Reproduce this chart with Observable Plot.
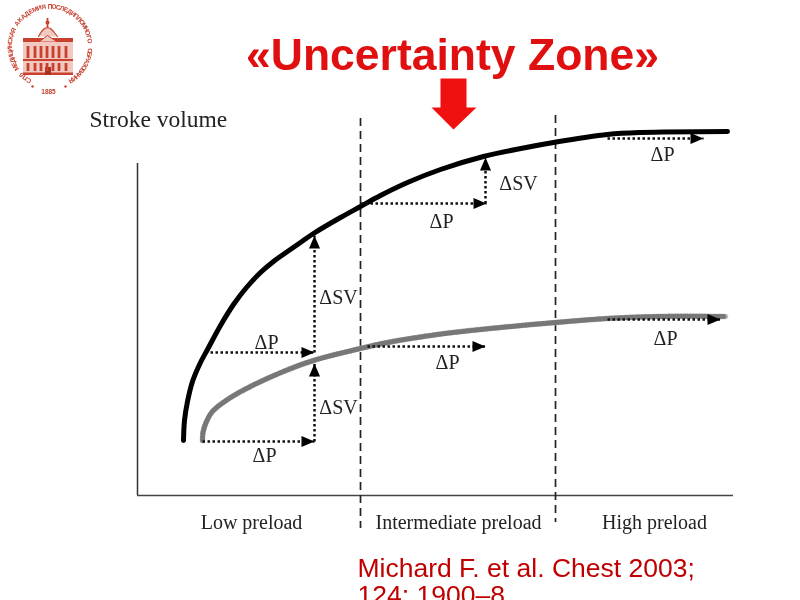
<!DOCTYPE html>
<html><head><meta charset="utf-8">
<script src="https://cdn.jsdelivr.net/npm/d3@7"></script>
<script src="https://cdn.jsdelivr.net/npm/@observablehq/plot@0.6"></script>
<style>html,body{margin:0;padding:0;background:#fff;overflow:hidden}svg{display:block;filter:blur(0.45px)}</style>
</head><body><div id="chart"></div>
<script>
// Screen-like units: preload runs 0..800 left to right, stroke volume 0..600 top down.
const upperPreload = [183,184,187,192,200,207,220,233,246,260,273,287,300,313,340,360,380,407,440,483,523,553,607,640,727];
const upperSV      = [440,420,401,381,362,349,325,304,287,272,261,251,242,233,217,206,195,182,169,156,147.5,142,134,132,131];
const lowerPreload = [202,202.5,206,212,227,250,283,313,360,387,437,500,555,607,657,725];
const lowerSV      = [440,432,421,411,399,386,371,360,348,342,334,327,322,318,316,316];

const arrowX1 = [202,314,210,314,360,485,607,367,607];
const arrowY1 = [441,441,352,352,203,203,138,346,319];
const arrowX2 = [314,314,314,314,486,485,703,485,720];
const arrowY2 = [441,363,352,235,203,157,138,346,319];

const labelText = ["ΔP","ΔSV","ΔP","ΔSV","ΔP","ΔSV","ΔP","ΔP","ΔP"];
const labelX    = [264,338,266,338,441,518,662,447,665];
const labelY    = [455,407,342,297,221,183,154,362,338];

const zoneText = ["Low preload","Intermediate preload","High preload"];
const zoneX    = [251,458,654];
const zoneY    = 522;

const dividerX = [360,555];
const dividerTop = [118,115];
const dividerBottom = [528,522];

const redArrowX = [440,466,466,476,453,431,440,440];
const redArrowY = [78,78,107,107,129,107,107,78];

// Logo
const logoRed = "#c8412f";
const logoWords = ["СПб","МЕДИЦИНСКАЯ","АКАДЕМИЯ","ПОСЛЕДИПЛОМНОГО","ОБРАЗОВАНИЯ"];
const logoFrom  = [-148,-122,-55,0,96];
const logoTo    = [-135,-66,-9,82,148];
const logoCx = 49.5, logoCy = 46, logoR = 40;
const bodyX1 = [23,23,23,23,45];
const bodyX2 = [73,73,73,73,51];
const bodyY1 = [38,38,59,72.5,67];
const bodyY2 = [75,42,61,75,75];
const bodyFill = ["#f2c9c0",logoRed,logoRed,logoRed,"#b03020"];
const windowX = [28,35,41,47,53,59,66];
const domeX = [38,41,44,47,50,53,57];
const domeY = [36,31,28,27,28,31,36];
const pedimentX = [39,47,56];
const pedimentY = [41,35,41];

const ringLetters = logoWords.flatMap((word,w) => Array.from(word,(ch,i)=>{
  const a = logoFrom[w] + (logoTo[w]-logoFrom[w])*i/(word.length-1);
  const r = a*Math.PI/180;
  return {ch, x:logoCx+logoR*Math.sin(r), y:logoCy-logoR*Math.cos(r), rot:a};
}));
const body = bodyX1.map((x1,i)=>({x1,x2:bodyX2[i],y1:bodyY1[i],y2:bodyY2[i],f:bodyFill[i]}));
const windows = windowX.flatMap(x=>[{x1:x-1.4,x2:x+1.4,y1:46,y2:58},{x1:x-1.4,x2:x+1.4,y1:63,y2:71}]);
const dome = domeX.map((x,i)=>({x,y:domeY[i]}));
const pediment = pedimentX.map((x,i)=>({x,y:pedimentY[i]}));

const upper = upperPreload.map((x,i)=>({x,y:upperSV[i]}));
const lower = lowerPreload.map((x,i)=>({x,y:lowerSV[i]}));
const arrows = arrowX1.map((x1,i)=>({x1,y1:arrowY1[i],x2:arrowX2[i],y2:arrowY2[i],
  rot:arrowX1[i]===arrowX2[i]?0:90}));
const labels = labelText.map((t,i)=>({t,x:labelX[i],y:labelY[i]}));
const zones = zoneText.map((t,i)=>({t,x:zoneX[i],y:zoneY}));
const dividers = dividerX.map((x,i)=>({x,y1:dividerTop[i],y2:dividerBottom[i]}));
const redArrow = redArrowX.map((x,i)=>({x,y:redArrowY[i]}));

const head = {draw(c){c.moveTo(0,0);c.lineTo(5.5,13);c.lineTo(-5.5,13);c.closePath();}};
const serif = "'Liberation Serif',serif", sans = "'Liberation Sans',Arial,sans-serif";

const chart = Plot.plot({
  width:800,height:600,margin:0,
  x:{domain:[0,800],range:[0,800],axis:null},
  y:{domain:[0,600],range:[0,600],axis:null},
  marks:[
    Plot.ruleX([137],{y1:163,y2:495,stroke:"#333",strokeWidth:1.5}),
    Plot.ruleY([495],{x1:137,x2:733,stroke:"#444",strokeWidth:1.5}),
    Plot.ruleX(dividers,{x:"x",y1:"y1",y2:"y2",stroke:"#222",strokeWidth:1.7,strokeDasharray:"8 5"}),
    Plot.line(upper,{x:"x",y:"y",curve:"catmull-rom",stroke:"#000",strokeWidth:5}),
    Plot.line(lower,{x:"x",y:"y",curve:"catmull-rom",stroke:"#bdbdbd",strokeWidth:5.5}),
    Plot.line(lower,{x:"x",y:"y",curve:"catmull-rom",stroke:"#777",strokeWidth:5,strokeDasharray:"1 2"}),
    Plot.link(arrows,{x1:"x1",y1:"y1",x2:"x2",y2:"y2",stroke:"#111",strokeWidth:2.5,strokeDasharray:"2.5 2.5"}),
    Plot.dot(arrows,{x:"x2",y:"y2",rotate:"rot",symbol:head,r:5,fill:"#000",stroke:"none"}),
    Plot.line(redArrow,{x:"x",y:"y",fill:"#f01010",stroke:"none"}),
    Plot.text(labels,{x:"x",y:"y",text:"t",fontFamily:serif,fontSize:20,fill:"#222"}),
    Plot.text(zones,{x:"x",y:"y",text:"t",fontFamily:serif,fontSize:20,fill:"#222"}),
    Plot.text(["Stroke volume"],{x:89,y:119,text:d=>d,textAnchor:"start",fontFamily:serif,fontSize:23.5,fill:"#222"}),
    Plot.text(["«Uncertainty Zone»"],{x:452,y:55,text:d=>d,fontFamily:sans,fontWeight:"bold",fontSize:44.5,fill:"#e01010"}),
    Plot.text(["Michard F. et al. Chest 2003;"],{x:357,y:568,text:d=>d,textAnchor:"start",fontFamily:sans,fontSize:26.5,fill:"#c00000"}),
    Plot.text(["124; 1900–8."],{x:357,y:595,text:d=>d,textAnchor:"start",fontFamily:sans,fontSize:26.5,fill:"#c00000"}),
    // logo
    Plot.rect(body,{x1:"x1",x2:"x2",y1:"y1",y2:"y2",fill:"f"}),
    Plot.rect(windows,{x1:"x1",x2:"x2",y1:"y1",y2:"y2",fill:logoRed}),
    Plot.line(dome,{x:"x",y:"y",fill:"#f2c9c0",stroke:logoRed,strokeWidth:1.2}),
    Plot.line(pediment,{x:"x",y:"y",fill:"#f2c9c0",stroke:logoRed,strokeWidth:1}),
    Plot.ruleX([47],{y1:18,y2:27,stroke:logoRed,strokeWidth:1.8}),
    Plot.dot([[47,22]],{x:"0",y:"1",r:2,fill:logoRed,stroke:"none"}),
    Plot.text(ringLetters,{x:"x",y:"y",text:"ch",rotate:"rot",fontFamily:sans,fontWeight:"bold",fontSize:6.5,fill:logoRed}),
    Plot.text(["1885"],{x:48,y:91,text:d=>d,fontFamily:sans,fontWeight:"bold",fontSize:6.5,fill:logoRed}),
    Plot.dot([[32,86],[65,86]],{x:"0",y:"1",r:1.2,fill:logoRed,stroke:"none"})
  ]
});
document.getElementById("chart").append(chart);
</script></body></html>
